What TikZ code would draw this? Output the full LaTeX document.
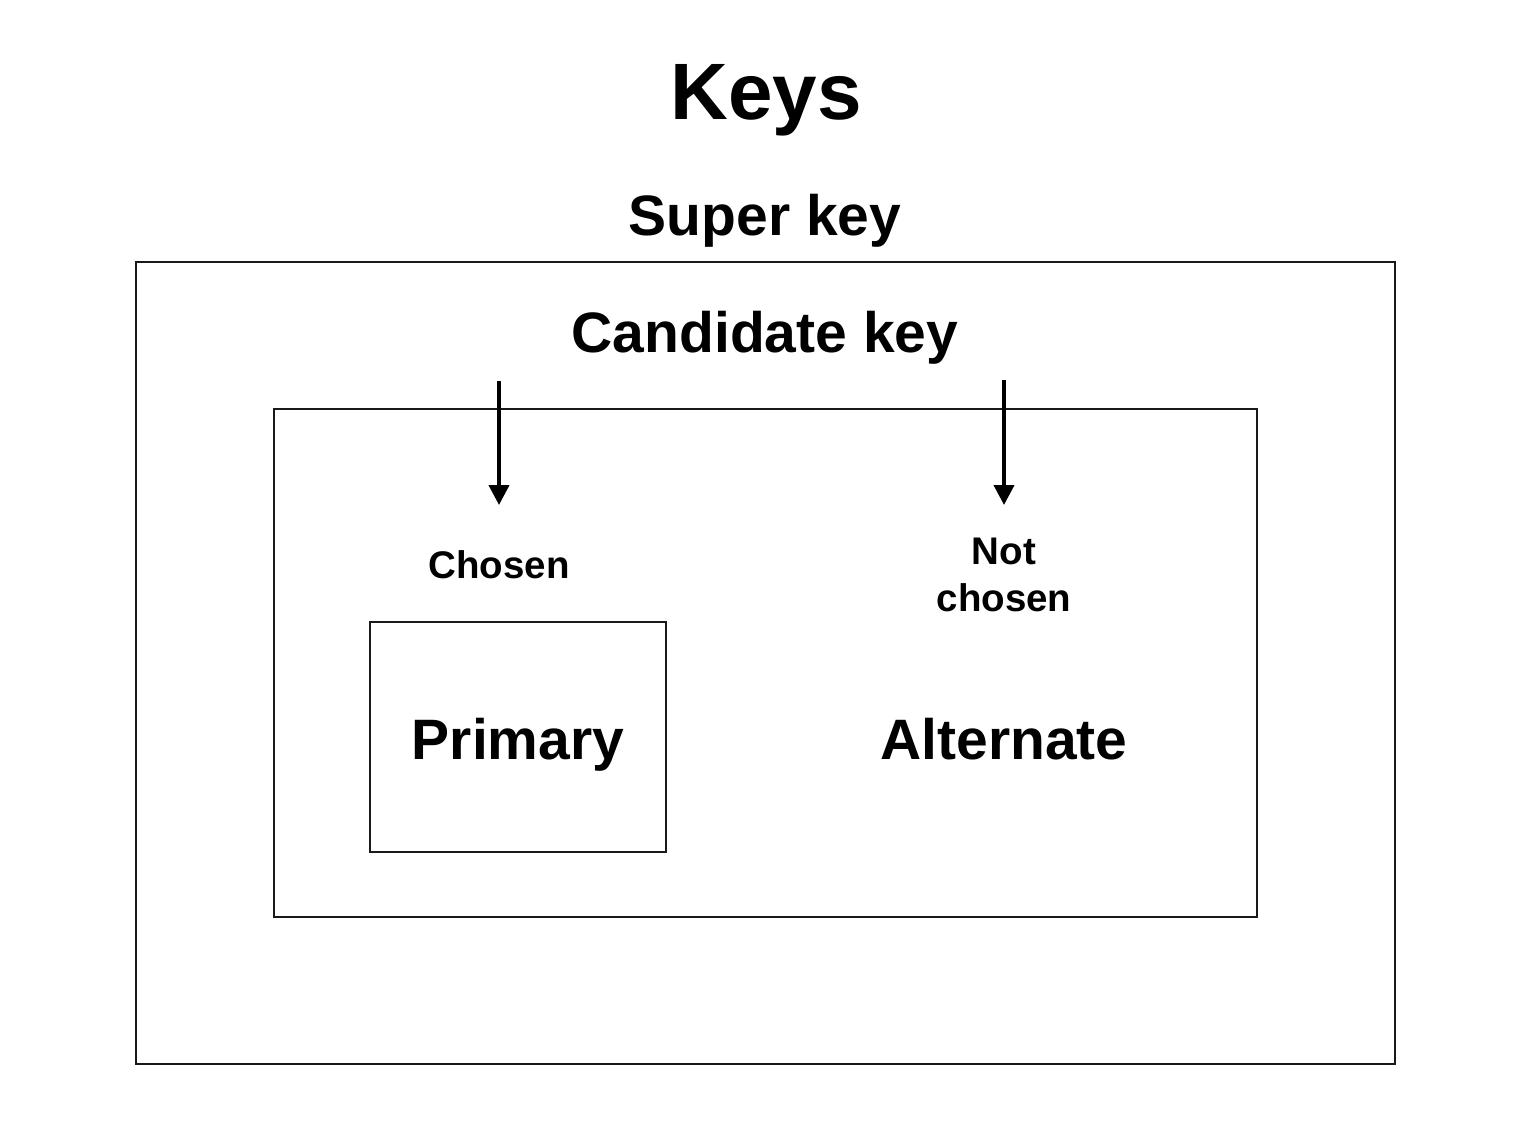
\documentclass[tikz,border=0pt]{standalone}
\usepackage{fontspec}
\setmainfont{Liberation Sans}
\usetikzlibrary{arrows.meta}
\begin{document}
\begin{tikzpicture}[x=1pt,y=-1pt,
  box/.style={draw=black!90, line width=2pt, fill=white},
  big/.style={font=\fontsize{57}{60}\selectfont\bfseries, inner sep=0pt, anchor=base},
  small/.style={font=\fontsize{38.5}{47}\selectfont\bfseries, inner sep=0pt, align=center},
  arr/.style={line width=4pt, -{Triangle[width=20pt,length=20pt]}}]
\useasboundingbox[fill=white] (0,0) rectangle (1528,1142);
\draw[box] (136,262) rectangle (1395,1064);
\draw[box] (274,409) rectangle (1257,917);
\draw[box] (370,622) rectangle (666,852);
\node[inner sep=0pt, anchor=base, font=\fontsize{80}{90}\selectfont\bfseries] (keys) at (766,120) {Keys};
\node[big] (super) at (765,235) {Super key};
\node[big] (cand) at (765,352) {Candidate key};
\node[big] (prim) at (518,759) {Primary};
\node[big] (alt) at (1004,759) {Alternate};
\node[small, anchor=base] (chosen) at (499,578) {Chosen};
\node[small, anchor=base] (not) at (1004,564) {Not};
\node[small, anchor=base] (notch) at (1004,611) {chosen};
\coordinate (a1s) at (499,381);
\coordinate (a1e) at (499,505);
\coordinate (a2s) at (1004,380);
\coordinate (a2e) at (1004,505);
\draw[arr] (a1s) -- (a1e);
\draw[arr] (a2s) -- (a2e);
\end{tikzpicture}
\end{document}
